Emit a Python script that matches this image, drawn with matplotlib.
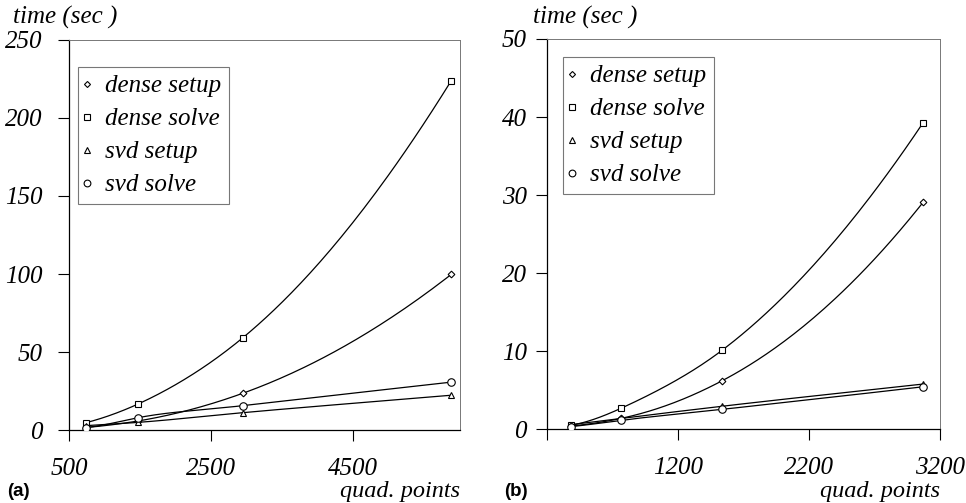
import numpy as np
import matplotlib
matplotlib.use("Agg")
import matplotlib.pyplot as plt
from matplotlib.lines import Line2D

# ---- data ----
labels = ["dense setup", "dense solve", "svd setup", "svd solve"]
markers = ["D", "s", "^", "o"]
msizes = [3.4, 5.0, 4.8, 5.4]

# (a)
pts_a = [736, 1472, 2944, 5888]
dense_setup_a = [1.6, 5.8, 23.5, 99.8]
dense_solve_a = [4.7, 16.7, 59.0, 224.0]
svd_setup_a = [2.8, 4.9, 11.1, 22.3]
svd_solve_a = [1.6, 7.9, 15.6, 30.7]

# (b)
pts_b = [384, 768, 1536, 3072]
dense_setup_b = [0.4, 1.4, 6.2, 29.1]
dense_solve_b = [0.5, 2.7, 10.1, 39.3]
svd_setup_b = [0.6, 1.4, 2.95, 5.8]
svd_solve_b = [0.35, 1.15, 2.55, 5.45]

plt.rcParams["font.family"] = "Liberation Serif"
plt.rcParams["font.style"] = "italic"


def smooth(x, y, n=60):
    # piecewise cubic hermite in log-log space -> smooth power-law looking curves
    lx = np.log(np.asarray(x, float))
    ly = np.log(np.asarray(y, float))
    sec = np.diff(ly) / np.diff(lx)
    m = np.empty_like(ly)
    m[1:-1] = (ly[2:] - ly[:-2]) / (lx[2:] - lx[:-2])
    m[0] = sec[0]
    m[-1] = sec[-1]
    xs, ys = [], []
    for i in range(len(lx) - 1):
        h = lx[i + 1] - lx[i]
        t = np.linspace(0, 1, n)
        h00 = 2 * t**3 - 3 * t**2 + 1
        h10 = t**3 - 2 * t**2 + t
        h01 = -2 * t**3 + 3 * t**2
        h11 = t**3 - t**2
        xs.append(lx[i] + t * h)
        ys.append(h00 * ly[i] + h10 * h * m[i] + h01 * ly[i + 1] + h11 * h * m[i + 1])
    return np.exp(np.concatenate(xs)), np.exp(np.concatenate(ys))


def panel(ax, x, series, xlim, ylim, xticks, yticks, xticklabels, leg_anchor, ypad):
    for ys, mk, ms in zip(series, markers, msizes):
        xs, yy = smooth(x, ys)
        ax.plot(xs, yy, color="black", lw=0.9, zorder=2)
        ax.plot(x, ys, linestyle="none", marker=mk, ms=ms, mfc="white",
                mec="black", mew=0.8, zorder=3)
    ax.set_xlim(*xlim)
    ax.set_ylim(*ylim)
    ax.set_xticks(xticks)
    ax.set_xticklabels(xticklabels)
    ax.set_yticks(yticks)
    ax.tick_params(direction="out", length=8, width=0.8, labelsize=18)
    ax.tick_params(axis="x", pad=12)
    ax.tick_params(axis="y", pad=ypad)
    for s in ["top", "right"]:
        ax.spines[s].set_color("#777777")
        ax.spines[s].set_linewidth(0.7)
    for s in ["left", "bottom"]:
        ax.spines[s].set_linewidth(0.9)
    handles = [Line2D([], [], linestyle="none", marker=mk, ms=ms * 0.9,
                      mfc="white", mec="black", mew=0.8)
               for mk, ms in zip(markers, msizes)]
    leg = ax.legend(handles, labels, loc="upper left", bbox_to_anchor=leg_anchor,
                    fontsize=18, frameon=True, fancybox=False, handlelength=0.15,
                    handletextpad=0.65, borderaxespad=0, labelspacing=0.42,
                    borderpad=0.3)
    leg.get_frame().set_edgecolor("#555555")
    leg.get_frame().set_linewidth(0.8)


fig = plt.figure(figsize=(9.66, 5.03), dpi=100)
ax1 = fig.add_axes([0.0717, 0.1451, 0.4045, 0.7754])
ax2 = fig.add_axes([0.5659, 0.1465, 0.4072, 0.776])

panel(ax1, pts_a, [dense_setup_a, dense_solve_a, svd_setup_a, svd_solve_a],
      (500, 6010), (0, 250), [500, 2500, 4500], [0, 50, 100, 150, 200, 250],
      ["500", "2500", "4500"], (0.0215, 0.93), 11.5)
panel(ax2, pts_b, [dense_setup_b, dense_solve_b, svd_setup_b, svd_solve_b],
      (200, 3200), (0, 50), [200, 1200, 2200, 3200], [0, 10, 20, 30, 40, 50],
      ["", "1200", "2200", "3200"], (0.041, 0.953), 6.3)

# axis captions
fig.text(13 / 966, 1 - 17 / 503, "time (sec )", fontsize=18, va="center", ha="left")
fig.text(533 / 966, 1 - 17 / 503, "time (sec )", fontsize=18, va="center", ha="left")
fig.text(460 / 966, 1 - 491 / 503, "quad. points", fontsize=17.5, va="center", ha="right")
fig.text(940 / 966, 1 - 491 / 503, "quad. points", fontsize=17.5, va="center", ha="right")
fig.text(7 / 966, 1 - 491 / 503, "(a)", fontsize=13.5, va="center", ha="left",
         family="Liberation Sans", style="normal", weight="bold")
fig.text(504 / 966, 1 - 491 / 503, "(b)", fontsize=13.5, va="center", ha="left",
         family="Liberation Sans", style="normal", weight="bold")

fig.savefig("out.png", dpi=100)
